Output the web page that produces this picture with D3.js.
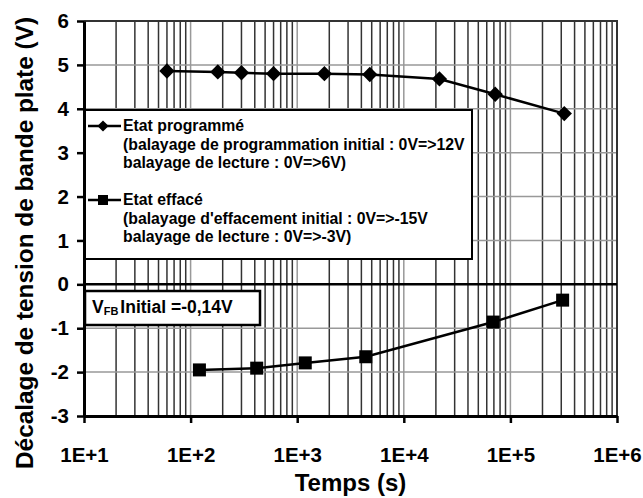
<!DOCTYPE html>
<html>
<head>
<meta charset="utf-8">
<script src="https://cdn.jsdelivr.net/npm/d3@7"></script>
<style>
  body { margin: 0; background: #fff; }
  text { font-family: "Liberation Sans", Arial, sans-serif; font-weight: bold; fill: #000; }
</style>
</head>
<body>
<div id="target"></div>
<script>
// temps (s) et décalage VFB (V)
const progTimes = [60, 180, 300, 600, 1800, 4800, 21600, 72000, 320000];
const progValues = [4.86, 4.84, 4.82, 4.80, 4.80, 4.78, 4.68, 4.33, 3.89];
const eraseTimes = [121, 417, 1190, 4400, 69000, 309000];
const eraseValues = [-1.95, -1.91, -1.79, -1.65, -0.86, -0.36];
const xTicks = [1e1, 1e2, 1e3, 1e4, 1e5, 1e6];
const yTicks = [-3, -2, -1, 0, 1, 2, 3, 4, 5, 6];
const legendLines = [
  "Etat programmé",
  "(balayage de programmation initial : 0V=>12V",
  "balayage de lecture : 0V=>6V)",
  "Etat effacé",
  "(balayage d'effacement initial : 0V=>-15V",
  "balayage de lecture : 0V=>-3V)"
];

function drawChart() {
  const width = 643,
    height = 498,
    margin = {top: 21, right: 26, bottom: 82, left: 84};

  const x = d3.scaleLog()
    .domain([1e1, 1e6])
    .range([margin.left, width - margin.right]);

  const y = d3.scaleLinear()
    .domain([-3, 6])
    .range([height - margin.bottom, margin.top]);

  const svg = d3.select("#target")
    .append("svg")
    .attr("width", width)
    .attr("height", height);

  // grille verticale : sous-divisions 2..9 foncées, décades plus claires
  const minor = [];
  for (let e = 1; e < 6; e++) {
    for (let k = 2; k <= 9; k++) minor.push(k * Math.pow(10, e));
  }
  svg.append("g")
    .selectAll("line")
    .data(minor)
    .enter()
    .append("line")
    .attr("x1", (d) => x(d))
    .attr("x2", (d) => x(d))
    .attr("y1", y(6))
    .attr("y2", y(-3))
    .style("stroke", "#333")
    .style("stroke-width", 1.5);

  svg.append("g")
    .selectAll("line")
    .data(xTicks.slice(1, -1))
    .enter()
    .append("line")
    .attr("x1", (d) => x(d))
    .attr("x2", (d) => x(d))
    .attr("y1", y(6))
    .attr("y2", y(-3))
    .style("stroke", "#999")
    .style("stroke-width", 1.5);

  svg.append("g")
    .selectAll("line")
    .data(yTicks.slice(1, -1))
    .enter()
    .append("line")
    .attr("x1", x(1e1))
    .attr("x2", x(1e6))
    .attr("y1", (d) => y(d))
    .attr("y2", (d) => y(d))
    .style("stroke", "#999")
    .style("stroke-width", 1.5);

  // cadre haut et droit
  svg.append("path")
    .attr("d", `M${x(1e1)},${y(6)}H${x(1e6)}V${y(-3)}`)
    .style("fill", "none")
    .style("stroke", "#333")
    .style("stroke-width", 2);

  // ligne 0 V
  svg.append("line")
    .attr("x1", x(1e1))
    .attr("x2", x(1e6))
    .attr("y1", y(0))
    .attr("y2", y(0))
    .style("stroke", "#000")
    .style("stroke-width", 2.5);

  // légende
  const legend = svg.append("g");
  legend.append("rect")
    .attr("x", 84)
    .attr("y", 110)
    .attr("width", 388)
    .attr("height", 149)
    .style("fill", "#fff")
    .style("stroke", "#000")
    .style("stroke-width", 2);

  legend.selectAll("text")
    .data(legendLines)
    .enter()
    .append("text")
    .attr("x", 123)
    .attr("y", (d, i) => (i < 3 ? 131 + i * 18.7 : 205 + (i - 3) * 18.7))
    .style("font-size", "15.8px")
    .text((d) => d);

  legend.append("line")
    .attr("x1", 88).attr("x2", 121)
    .attr("y1", 126).attr("y2", 126)
    .style("stroke", "#000").style("stroke-width", 2.5);
  legend.append("path")
    .attr("transform", "translate(103,126)")
    .attr("d", d3.symbol(d3.symbolDiamond2, 80))
    .style("fill", "#000");
  legend.append("line")
    .attr("x1", 88).attr("x2", 121)
    .attr("y1", 200).attr("y2", 200)
    .style("stroke", "#000").style("stroke-width", 2.5);
  legend.append("rect")
    .attr("x", 98).attr("y", 195)
    .attr("width", 10).attr("height", 10)
    .style("fill", "#000");

  // encadré VFB initial
  const vfb = svg.append("g");
  vfb.append("rect")
    .attr("x", 85)
    .attr("y", 291)
    .attr("width", 175)
    .attr("height", 34)
    .style("fill", "#fff")
    .style("stroke", "#000")
    .style("stroke-width", 2.5);
  const vt = vfb.append("text")
    .attr("x", 92)
    .attr("y", 313)
    .style("font-size", "17.5px");
  vt.append("tspan").text("V");
  vt.append("tspan").attr("dy", 2).style("font-size", "11px").text("FB");
  vt.append("tspan").attr("dy", -2).attr("dx", 2).text("Initial =-0,14V");

  // séries
  const line = d3.line()
    .x((d) => x(d[0]))
    .y((d) => y(d[1]));

  const prog = d3.zip(progTimes, progValues);
  const erase = d3.zip(eraseTimes, eraseValues);

  svg.append("path")
    .datum(prog)
    .attr("d", line)
    .style("fill", "none")
    .style("stroke", "#000")
    .style("stroke-width", 2.5);

  svg.append("path")
    .datum(erase)
    .attr("d", line)
    .style("fill", "none")
    .style("stroke", "#000")
    .style("stroke-width", 2.5);

  svg.append("g")
    .selectAll("path")
    .data(prog)
    .enter()
    .append("path")
    .attr("transform", (d) => `translate(${x(d[0])},${y(d[1])})`)
    .attr("d", d3.symbol(d3.symbolDiamond2, 150))
    .style("fill", "#000");

  svg.append("g")
    .selectAll("rect")
    .data(erase)
    .enter()
    .append("rect")
    .attr("x", (d) => x(d[0]) - 6.5)
    .attr("y", (d) => y(d[1]) - 6.5)
    .attr("width", 13)
    .attr("height", 13)
    .style("fill", "#000");

  // axes
  const xAxis = svg.append("g")
    .attr("transform", `translate(0,${y(-3)})`)
    .call(d3.axisBottom(x)
      .tickValues(xTicks)
      .tickFormat((d) => "1E+" + Math.round(Math.log10(d)))
      .tickSizeInner(7)
      .tickSizeOuter(0)
      .tickPadding(24));

  const yAxis = svg.append("g")
    .attr("transform", `translate(${x(1e1)},0)`)
    .call(d3.axisLeft(y)
      .tickValues(yTicks)
      .tickFormat((d) => String(d))
      .tickSizeInner(7)
      .tickSizeOuter(0)
      .tickPadding(8));

  [xAxis, yAxis].forEach((a) => {
    a.select(".domain").style("stroke", "#000").style("stroke-width", 3);
    a.selectAll(".tick line").style("stroke", "#000").style("stroke-width", 2.5);
    a.selectAll(".tick text")
      .style("font-family", "'Liberation Sans', Arial, sans-serif")
      .style("font-weight", "bold")
      .style("font-size", "20.5px")
      .style("fill", "#000");
  });

  svg.append("text")
    .attr("x", (x(1e1) + x(1e6)) / 2)
    .attr("y", 491)
    .attr("text-anchor", "middle")
    .style("font-size", "24px")
    .text("Temps (s)");

  svg.append("text")
    .attr("transform", "translate(33,243) rotate(-90)")
    .attr("text-anchor", "middle")
    .attr("textLength", 452)
    .attr("lengthAdjust", "spacingAndGlyphs")
    .style("font-size", "23px")
    .text("Décalage de tension de bande plate (V)");
}

drawChart();
</script>
</body>
</html>
